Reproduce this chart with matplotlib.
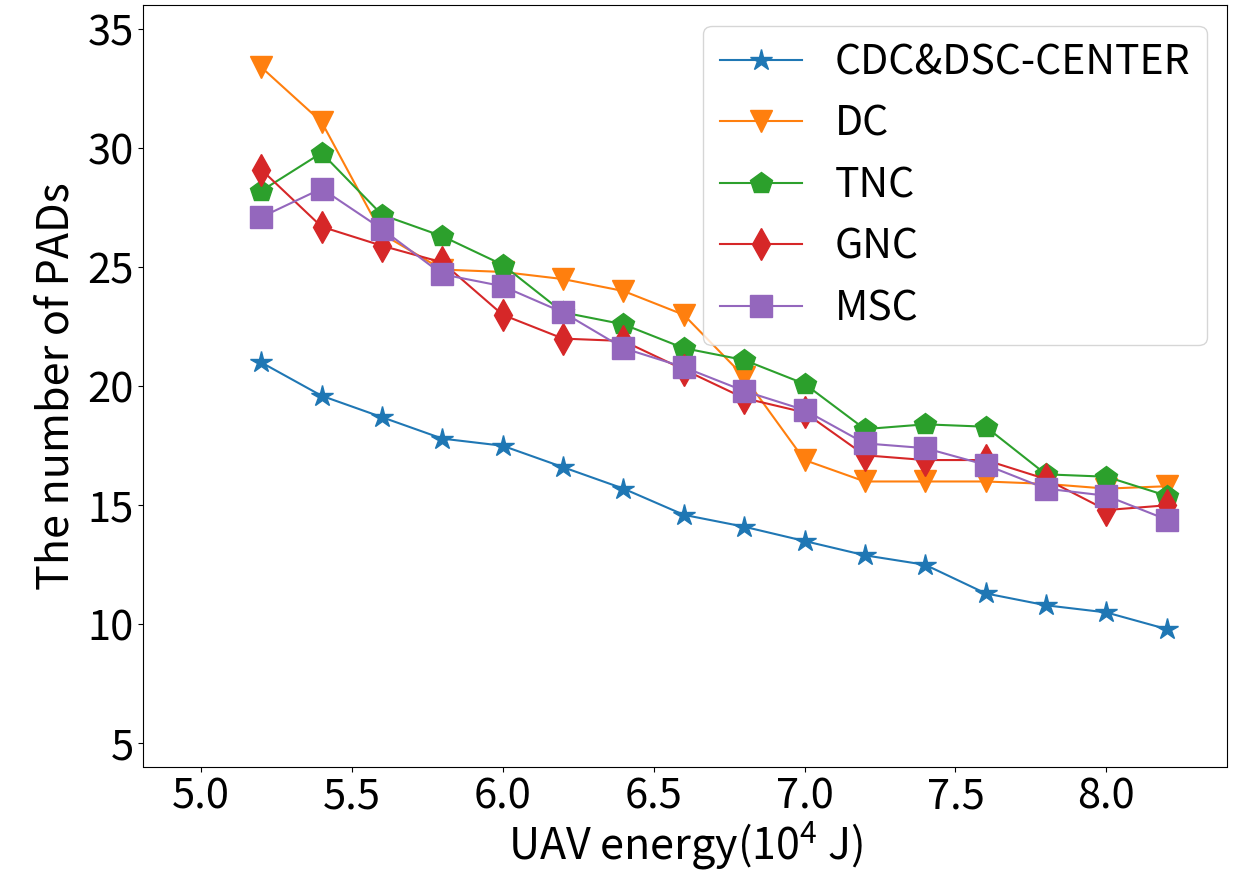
import matplotlib
matplotlib.use('Agg')
import matplotlib.pyplot as plt

plt.rcParams['font.family'] = ['Noto Sans CJK SC', 'DejaVu Sans']
plt.rcParams['mathtext.fontset'] = 'custom'
plt.rcParams['mathtext.rm'] = 'Noto Sans CJK SC'
plt.rcParams['mathtext.it'] = 'Noto Sans CJK SC'

energy = [5.2, 5.4, 5.6, 5.8, 6.0, 6.2, 6.4, 6.6, 6.8, 7.0, 7.2, 7.4, 7.6, 7.8, 8.0, 8.2]

cdc_dsc = [21.0, 19.6, 18.7, 17.8, 17.5, 16.6, 15.7, 14.6, 14.1, 13.5, 12.9, 12.5, 11.3, 10.8, 10.5, 9.8]
dc = [33.4, 31.1, 26.4, 24.9, 24.8, 24.5, 24.0, 23.0, 20.4, 16.9, 16.0, 16.0, 16.0, 15.9, 15.7, 15.8]
tnc = [28.2, 29.8, 27.2, 26.3, 25.1, 23.1, 22.6, 21.6, 21.1, 20.1, 18.2, 18.4, 18.3, 16.3, 16.2, 15.4]
gnc = [29.1, 26.7, 25.9, 25.2, 23.0, 22.0, 21.9, 20.7, 19.5, 18.9, 17.1, 16.9, 16.9, 16.1, 14.8, 15.0]
msc = [27.1, 28.3, 26.6, 24.7, 24.2, 23.1, 21.6, 20.8, 19.8, 19.0, 17.6, 17.4, 16.7, 15.7, 15.4, 14.4]

fig = plt.figure(figsize=(12.37, 8.75), dpi=100)
ax = fig.add_axes([0.116, 0.124, 0.876, 0.870])

ms = 16
ax.plot(energy, cdc_dsc, marker='*', markersize=ms, label='CDC&DSC-CENTER')
ax.plot(energy, dc, marker='v', markersize=ms, label='DC')
ax.plot(energy, tnc, marker='p', markersize=ms, label='TNC')
ax.plot(energy, gnc, marker='d', markersize=ms, label='GNC')
ax.plot(energy, msc, marker='s', markersize=ms, label='MSC')

ax.set_xlim(4.81, 8.40)
ax.set_ylim(4.03, 36.0)
ax.set_xticks([5.0, 5.5, 6.0, 6.5, 7.0, 7.5, 8.0])
ax.set_yticks([5, 10, 15, 20, 25, 30, 35])
ax.tick_params(labelsize=30)

ax.set_xlabel('UAV energy(10$^4$ J)', fontsize=31, labelpad=2)
ax.set_ylabel('The number of PADs', fontsize=31, labelpad=6)

ax.legend(loc='upper right', fontsize=29.5)

fig.savefig('out.png', dpi=100)
